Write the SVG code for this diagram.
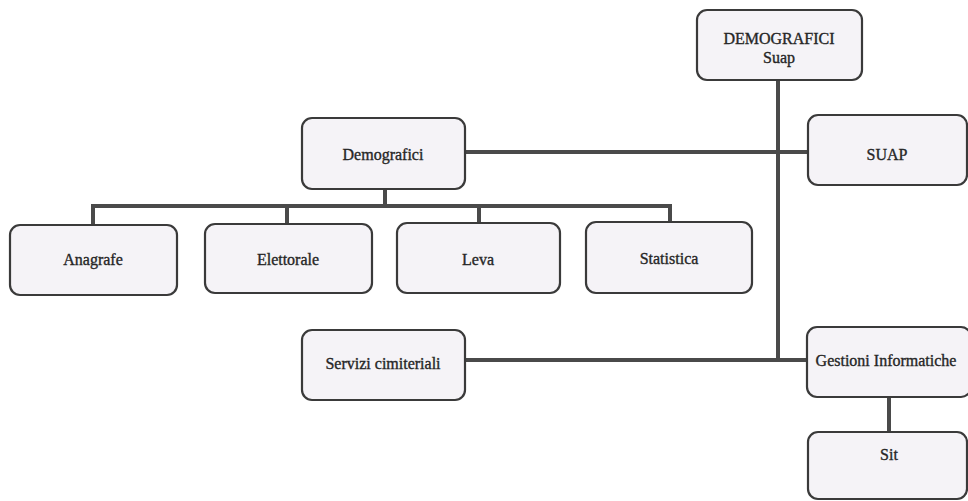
<svg xmlns="http://www.w3.org/2000/svg" width="968" height="501" viewBox="0 0 968 501">
<style>
.box{fill:#f5f3f7;stroke:#3a3a3a;stroke-width:2.2}
.lbl{font-family:"Liberation Serif","Times New Roman",serif;font-size:16px;fill:#262626;stroke:#262626;stroke-width:0.35;text-anchor:middle}
.con{stroke:#4a4a4a;stroke-width:4;fill:none;stroke-linecap:square}
</style>
<rect width="968" height="501" fill="#ffffff"/>
<g id="connectors">
<path class="con" d="M778 81V360"/>
<path class="con" d="M466 152H807"/>
<path class="con" d="M466 360H806"/>
<path class="con" d="M385 190V206"/>
<path class="con" d="M93 206H670"/>
<path class="con" d="M93 206V224"/>
<path class="con" d="M287 206V223"/>
<path class="con" d="M479 206V222"/>
<path class="con" d="M670 206V221"/>
<path class="con" d="M889 398V431"/>
</g>
<g id="demografici-suap"><rect class="box" x="697" y="10" width="165" height="70" rx="10"/><text class="lbl" x="779" y="44">DEMOGRAFICI</text><text class="lbl" x="779" y="63">Suap</text></g>
<g id="suap"><rect class="box" x="808" y="115" width="159" height="70" rx="10"/><text class="lbl" x="887" y="160">SUAP</text></g>
<g id="demografici"><rect class="box" x="302" y="118" width="163" height="71" rx="10"/><text class="lbl" x="383" y="160">Demografici</text></g>
<g id="anagrafe"><rect class="box" x="10" y="225" width="167" height="70" rx="10"/><text class="lbl" x="93" y="265">Anagrafe</text></g>
<g id="elettorale"><rect class="box" x="205" y="224" width="167" height="69" rx="10"/><text class="lbl" x="288" y="265">Elettorale</text></g>
<g id="leva"><rect class="box" x="397" y="223" width="163" height="70" rx="10"/><text class="lbl" x="478" y="265">Leva</text></g>
<g id="statistica"><rect class="box" x="586" y="222" width="166" height="71" rx="10"/><text class="lbl" x="669" y="264">Statistica</text></g>
<g id="servizi-cimiteriali"><rect class="box" x="302" y="330" width="163" height="70" rx="10"/><text class="lbl" x="383" y="369">Servizi cimiteriali</text></g>
<g id="gestioni-informatiche"><rect class="box" x="807" y="327" width="164" height="70" rx="10"/><text class="lbl" x="886" y="366">Gestioni Informatiche</text></g>
<g id="sit"><rect class="box" x="808" y="432" width="159" height="67" rx="10"/><text class="lbl" x="889" y="460">Sit</text></g>
</svg>
